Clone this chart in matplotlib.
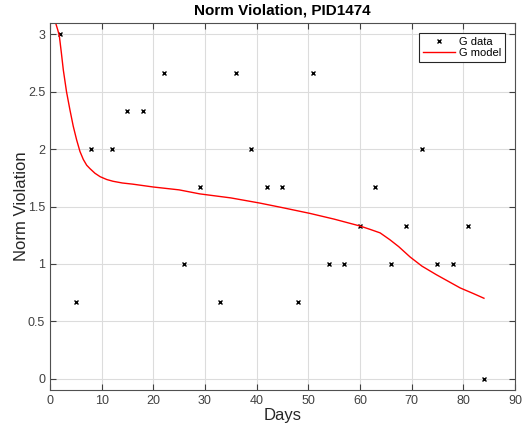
import numpy as np
import matplotlib
matplotlib.use('Agg')
import matplotlib.pyplot as plt

plt.rcParams['font.family'] = ['Liberation Sans', 'DejaVu Sans']

# observed norm violation per session day
days = [2, 5, 8, 12, 15, 18, 22, 26, 29, 33, 36, 39, 42, 45, 48, 51, 54, 57,
        60, 63, 66, 69, 72, 75, 78, 81, 84]
g_data = [3, 0.667, 2, 2, 2.333, 2.333, 2.667, 1, 1.667, 0.667, 2.667, 2,
          1.667, 1.667, 0.667, 2.667, 1, 1, 1.333, 1.667, 1, 1.333, 2, 1, 1,
          1.333, 0]

# fitted model curve
model_days = [1.16, 1.5, 1.8, 2.2, 2.58, 3.2, 3.87, 4.5, 5.16, 5.8, 6.45, 7.1,
              7.74, 8.7, 9.7, 11, 12.2, 14, 16, 20, 25, 29, 35, 40.6, 45,
              50.3, 55, 60, 62, 63.9, 65.8, 67.5, 69.7, 72, 74.8, 77, 79.4,
              82, 84]
g_model = [3.09, 3.04, 2.99, 2.84, 2.69, 2.50, 2.34, 2.20, 2.08, 1.98, 1.91,
           1.86, 1.83, 1.79, 1.76, 1.735, 1.72, 1.705, 1.695, 1.67, 1.645,
           1.61, 1.575, 1.53, 1.49, 1.44, 1.39, 1.33, 1.30, 1.27, 1.21, 1.15,
           1.06, 0.98, 0.905, 0.85, 0.79, 0.74, 0.70]

fig = plt.figure(figsize=(5.23, 4.26), dpi=100)
ax = fig.add_axes([0.0956, 0.0845, 0.889, 0.8615])

ax.plot(days, g_data, 'kx', markersize=3.3, markeredgewidth=1.0, label='G data')
ax.plot(model_days, g_model, color='#ff0000', linewidth=1.0, label='G model')

ax.set_xlim(0, 90)
ax.set_ylim(-0.1, 3.1)
ax.set_xticks(np.arange(0, 91, 10))
ax.set_yticks([0, 0.5, 1, 1.5, 2, 2.5, 3])
ax.set_yticklabels(['0', '0.5', '1', '1.5', '2', '2.5', '3'])

ax.grid(True, color='#dcdcdc', linewidth=0.8)
ax.set_axisbelow(True)
ax.tick_params(direction='in', top=True, right=True, length=4,
               labelsize=9, colors='#404040', width=0.8)
for s in ax.spines.values():
    s.set_color('#505050')
    s.set_linewidth(0.8)

ax.set_title('Norm Violation, PID1474', fontsize=11, fontweight='bold', pad=6)
ax.set_xlabel('Days', fontsize=12, color='#262626', labelpad=1)
ax.set_ylabel('Norm Violation', fontsize=12, color='#262626', labelpad=-1)

leg = ax.legend(loc='upper right', fontsize=8, fancybox=False, framealpha=1,
                edgecolor='#262626', borderpad=0.35, handlelength=2.9,
                handletextpad=0.3, labelspacing=0.12, borderaxespad=0.9)
leg.get_frame().set_linewidth(0.8)

fig.savefig('out.png', dpi=100)
